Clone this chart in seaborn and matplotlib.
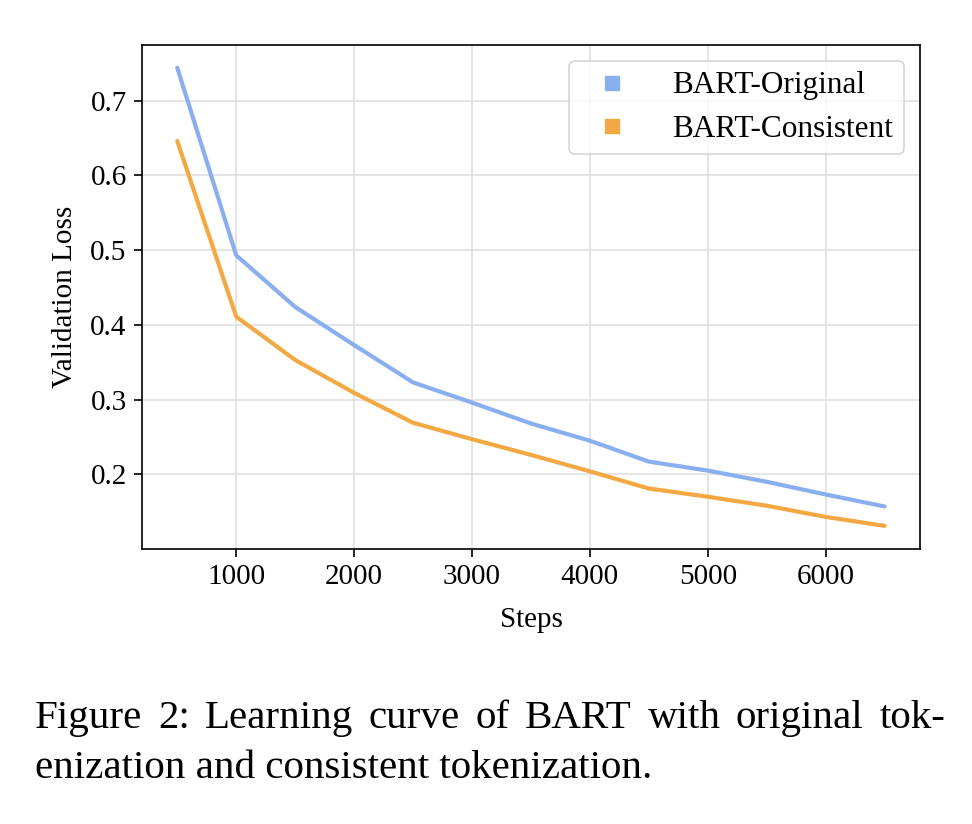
import numpy as np
import pandas as pd
import matplotlib
matplotlib.use('Agg')
import matplotlib.pyplot as plt
from matplotlib.lines import Line2D
import seaborn as sns

# ---------------------------
# DATA
# ---------------------------
steps = [500, 1000, 1500, 2000, 2500, 3000, 3500, 4000, 4500, 5000, 5500, 6000, 6500]
loss_original = [0.744, 0.493, 0.424, 0.373, 0.323, 0.296, 0.268, 0.245, 0.217, 0.205, 0.190, 0.173, 0.157]
loss_consistent = [0.646, 0.411, 0.353, 0.309, 0.269, 0.247, 0.226, 0.204, 0.181, 0.170, 0.158, 0.143, 0.131]
series_names = ['BART-Original', 'BART-Consistent']
caption_lines = ['Figure 2:  Learning curve of BART with original tok-',
                 'enization and consistent tokenization.']

colors = ['#8AAFEF', '#F3A943']

df = pd.DataFrame({
    'Steps': steps * 2,
    'Validation Loss': loss_original + loss_consistent,
    'model': [series_names[0]] * len(steps) + [series_names[1]] * len(steps),
})

# ---------------------------
# STYLE
# ---------------------------
sns.set_style('ticks')
plt.rcParams['font.family'] = ['Liberation Serif', 'DejaVu Serif']
plt.rcParams['text.color'] = 'black'
plt.rcParams['axes.labelcolor'] = 'black'
plt.rcParams['xtick.labelcolor'] = 'black'
plt.rcParams['ytick.labelcolor'] = 'black'

fig = plt.figure(figsize=(9.72, 8.24), dpi=100)
ax = fig.add_axes([0.146, 0.334, 0.8005, 0.6115])

sns.lineplot(
    data=df, x='Steps', y='Validation Loss', hue='model',
    palette=colors, linewidth=3, ax=ax, legend=False,
)

ax.grid(True, color='#e0e0e0', linewidth=1.2)
ax.set_axisbelow(True)
for s in ax.spines.values():
    s.set_color('black')
    s.set_linewidth(1.2)
ax.tick_params(axis='both', labelsize=21, length=6, width=1.2, color='black', pad=5)
ax.set_xticks([1000, 2000, 3000, 4000, 5000, 6000])
ax.set_yticks([0.2, 0.3, 0.4, 0.5, 0.6, 0.7])
ax.set_xlabel('Steps', fontsize=21, labelpad=12)
ax.set_ylabel('Validation Loss', fontsize=21, labelpad=9)

handles = [Line2D([], [], linestyle='none', marker='s', markersize=10,
                  markerfacecolor=c, markeredgecolor=c) for c in colors]
leg = ax.legend(handles, series_names, loc='upper right', fontsize=22.5,
                frameon=True, handletextpad=0.95, borderpad=0.35,
                labelspacing=0.45, borderaxespad=0.5, fancybox=True)
leg.get_frame().set_edgecolor('#cccccc')
leg.get_frame().set_linewidth(1.2)

# ---------------------------
# CAPTION (justified first line)
# ---------------------------
cap_size = 29.5
fig.canvas.draw()
renderer = fig.canvas.get_renderer()
left_px, right_px = 35, 945
words = caption_lines[0].split()
texts = [fig.text(0, 0, w, fontsize=cap_size) for w in words]
widths = [t.get_window_extent(renderer).width for t in texts]
gap = (right_px - left_px - sum(widths)) / (len(words) - 1)
x = left_px
for t, w in zip(texts, widths):
    t.set_position((x / 972, 1 - 728 / 824))
    x += w + gap
fig.text(left_px / 972, 1 - 778 / 824, caption_lines[1], fontsize=cap_size)

fig.savefig('out.png', dpi=100, facecolor='white')
